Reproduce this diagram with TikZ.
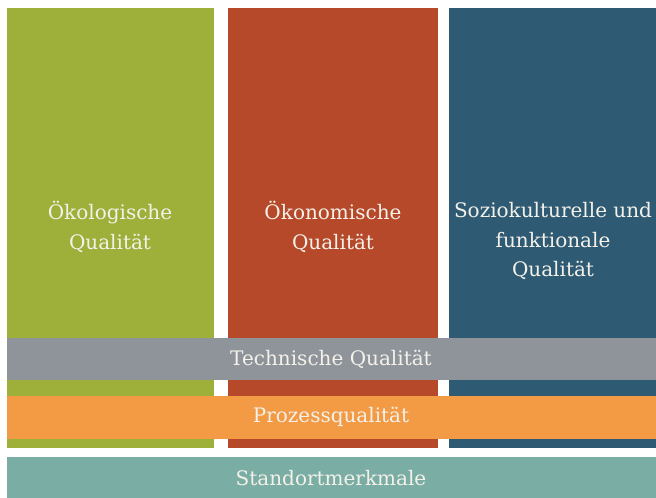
\documentclass[tikz,border=0pt]{standalone}
\usepackage{fontspec}
\setmainfont{DejaVu Serif}
\definecolor{cgreen}{HTML}{9EB03A}
\definecolor{cred}{HTML}{B5492A}
\definecolor{cblue}{HTML}{2E5B73}
\definecolor{cgray}{HTML}{8F949B}
\definecolor{corange}{HTML}{F29A44}
\definecolor{cteal}{HTML}{7AADA4}
\definecolor{ctext}{HTML}{F4F1EA}
\begin{document}
\begin{tikzpicture}[x=1pt,y=-1pt,
  box/.style={inner sep=0pt,outer sep=0pt,anchor=north west},
  lbl/.style={text=ctext,font=\fontsize{20}{29.5}\selectfont,align=center,inner sep=0pt}]
\useasboundingbox[fill=white] (0,0) rectangle (656,498);
% columns
\node[box,fill=cgreen,minimum width=207pt,minimum height=440pt] (col1) at (7,8) {};
\node[box,fill=cred,minimum width=210pt,minimum height=440pt] (col2) at (228,8) {};
\node[box,fill=cblue,minimum width=207pt,minimum height=440pt] (col3) at (449,8) {};
% bands
\node[box,fill=cgray,minimum width=649pt,minimum height=42pt] (tech) at (7,338) {};
\node[box,fill=corange,minimum width=649pt,minimum height=43pt] (proz) at (7,396) {};
\node[box,fill=cteal,minimum width=649pt,minimum height=41pt] (stand) at (7,457) {};
% labels
\node[lbl] (l1) at (110,227) {Ökologische\\Qualität};
\node[lbl] (l2) at (333,227) {Ökonomische\\Qualität};
\node[lbl] (l3) at (553,241) {Soziokulturelle und\\funktionale\\Qualität};
\node[lbl] (l4) at (331,359) {Technische Qualität};
\node[lbl] (l5) at (331,417) {Prozessqualität};
\node[lbl] (l6) at (331,478) {Standortmerkmale};
\end{tikzpicture}
\end{document}
